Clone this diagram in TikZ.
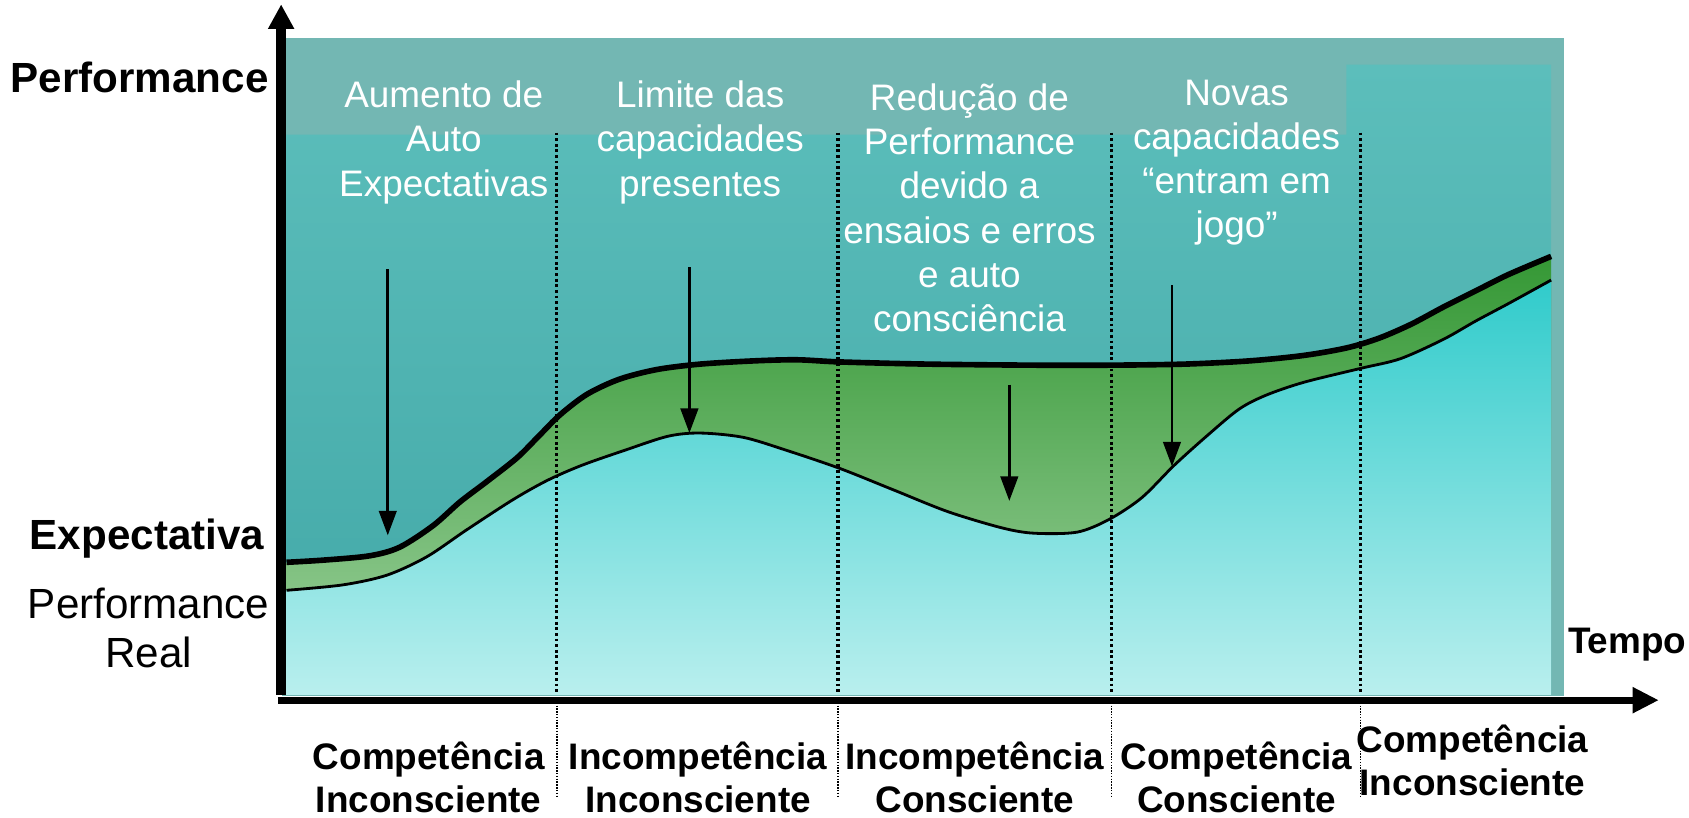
\documentclass[tikz,border=0pt]{standalone}
\usepackage{fontspec}
\setmainfont{Liberation Sans}
\usetikzlibrary{arrows.meta}
\definecolor{bandc}{HTML}{73B7B3}
\definecolor{plottop}{HTML}{5CBEBB}
\definecolor{plotbot}{HTML}{42A8A7}
\definecolor{gtop}{HTML}{359835}
\definecolor{gmid}{HTML}{4FA54F}
\definecolor{gbot}{HTML}{86C486}
\definecolor{ctop}{HTML}{30CBCB}
\definecolor{cbot}{HTML}{B9EFEE}
\tikzset{
  expline/.style={line width=1.6pt, line join=round},
  perfline/.style={line width=0.8pt, line join=round},
  downarr/.style={line width=0.75pt, -{Triangle[width=5pt,length=7pt]}},
  dotup/.style={line width=0.9pt, dash pattern=on 0.8pt off 0.8pt},
  dotdown/.style={line width=0.4pt, dash pattern=on 0.4pt off 0.4pt},
  wtxt/.style={text=white, align=center, inner sep=0pt, font=\fontsize{10.5}{12.6}\selectfont},
  btxt/.style={align=center, inner sep=0pt, font=\fontsize{10.5}{12.3}\selectfont\bfseries},
  bigb/.style={inner sep=0pt, font=\fontsize{12}{14}\selectfont\bfseries},
}
\begin{document}
\begin{tikzpicture}[x=0.010772cm, y=-0.010772cm]
\useasboundingbox (0,0) rectangle (1568,759);

% background band
\fill[bandc] (262,35) rectangle (1452,646);
% plot area
\shade[top color=plottop, bottom color=plotbot]
  (265,125) -- (1250,125) -- (1250,60) -- (1440,60) -- (1440,645) -- (265,645) -- cycle;

% green region under expectation curve
\begin{scope}
\clip plot[smooth, tension=0.5] coordinates {(266,522) (300,520) (343,516) (371,508) (402,488) (427,466) (452,447) (480,425) (500,405) (520,385) (545,366) (575,352) (610,343) (650,338) (700,335) (740,334) (780,336) (860,338) (960,339) (1030,339) (1100,338) (1160,335) (1210,330) (1250,323) (1280,314) (1310,301) (1340,285) (1370,270) (1400,255) (1440,238)} -- (1440,645) -- (266,645) -- cycle;
\shade[top color=gtop, middle color=gmid, bottom color=gbot] (266,238) rectangle (1440,548);
\end{scope}

% cyan region under real performance curve
\shade[top color=ctop, bottom color=cbot]
  plot[smooth, tension=0.5] coordinates {(266,548) (318,543) (359,534) (396,517) (433,492) (476,464) (508,446) (540,432) (580,418) (620,405) (650,402) (690,406) (730,418) (780,435) (830,455) (880,475) (930,490) (960,495) (1000,494) (1030,482) (1060,462) (1090,432) (1120,405) (1150,380) (1175,367) (1210,355) (1263,342) (1300,333) (1340,315) (1370,298) (1400,282) (1440,260)} -- (1440,645) -- (266,645) -- cycle;

% dotted separators
\foreach \i/\x in {1/517,2/778,3/1032,4/1263}{
  \coordinate (u\i) at (\x,123);
  \coordinate (m\i) at (\x,645);
  \coordinate (n\i) at (\x,655);
  \coordinate (d\i) at (\x,741);
  \draw[dotup] (u\i) -- (m\i);
  \draw[dotdown] (n\i) -- (d\i);
}

% curves
\draw[perfline] plot[smooth, tension=0.5] coordinates {(266,548) (318,543) (359,534) (396,517) (433,492) (476,464) (508,446) (540,432) (580,418) (620,405) (650,402) (690,406) (730,418) (780,435) (830,455) (880,475) (930,490) (960,495) (1000,494) (1030,482) (1060,462) (1090,432) (1120,405) (1150,380) (1175,367) (1210,355) (1263,342) (1300,333) (1340,315) (1370,298) (1400,282) (1440,260)};
\draw[expline] plot[smooth, tension=0.5] coordinates {(266,522) (300,520) (343,516) (371,508) (402,488) (427,466) (452,447) (480,425) (500,405) (520,385) (545,366) (575,352) (610,343) (650,338) (700,335) (740,334) (780,336) (860,338) (960,339) (1030,339) (1100,338) (1160,335) (1210,330) (1250,323) (1280,314) (1310,301) (1340,285) (1370,270) (1400,255) (1440,238)};

% down arrows
\coordinate (a1s) at (360,250); \coordinate (a1e) at (360,497);
\coordinate (a2s) at (640,248); \coordinate (a2e) at (640,402);
\coordinate (a3s) at (937,357); \coordinate (a3e) at (937,465);
\coordinate (a4s) at (1088,265); \coordinate (a4e) at (1088,433);
\draw[downarr] (a1s) -- (a1e);
\draw[downarr] (a2s) -- (a2e);
\draw[downarr] (a3s) -- (a3e);
\draw[downarr] (a4s) -- (a4e);

% axes
\coordinate (yb) at (261,645); \coordinate (yt) at (261,4);
\coordinate (xl) at (258,650); \coordinate (xr) at (1540,650);
\draw[line width=3pt, -{Triangle[width=7pt,length=7pt]}] (yb) -- (yt);
\draw[line width=2pt, -{Triangle[width=7pt,length=7.5pt]}] (xl) -- (xr);

% axis labels
\node[bigb, anchor=east] (perf) at (250,72) {Performance};
\node[bigb, anchor=east] (expt) at (246,500) {Expectativa};
\node[align=center, inner sep=0pt, font=\fontsize{12}{13.8}\selectfont] (preal) at (138,583) {Performance\\Real};
\node[inner sep=0pt, font=\fontsize{10.5}{12}\selectfont\bfseries, anchor=west] (tempo) at (1455,598) {Tempo};

% top white texts
\node[wtxt] (t1) at (412,132) {Aumento de\\Auto\\Expectativas};
\node[wtxt] (t2) at (650,132) {Limite das\\capacidades\\presentes};
\node[wtxt] (t3) at (900,193) {Redução de\\Performance\\devido a\\ensaios e erros\\e auto\\consciência};
\node[wtxt] (t4) at (1148,151) {Novas\\capacidades\\“entram em\\jogo”};

% bottom stage labels
\node[btxt] (s1) at (398,722) {Competência\\Inconsciente};
\node[btxt] (s2) at (648,722) {Incompetência\\Inconsciente};
\node[btxt] (s3) at (905,722) {Incompetência\\Consciente};
\node[btxt] (s4) at (1148,722) {Competência\\Consciente};
\node[btxt] (s5) at (1367,706) {Competência\\Inconsciente};
\end{tikzpicture}
\end{document}
